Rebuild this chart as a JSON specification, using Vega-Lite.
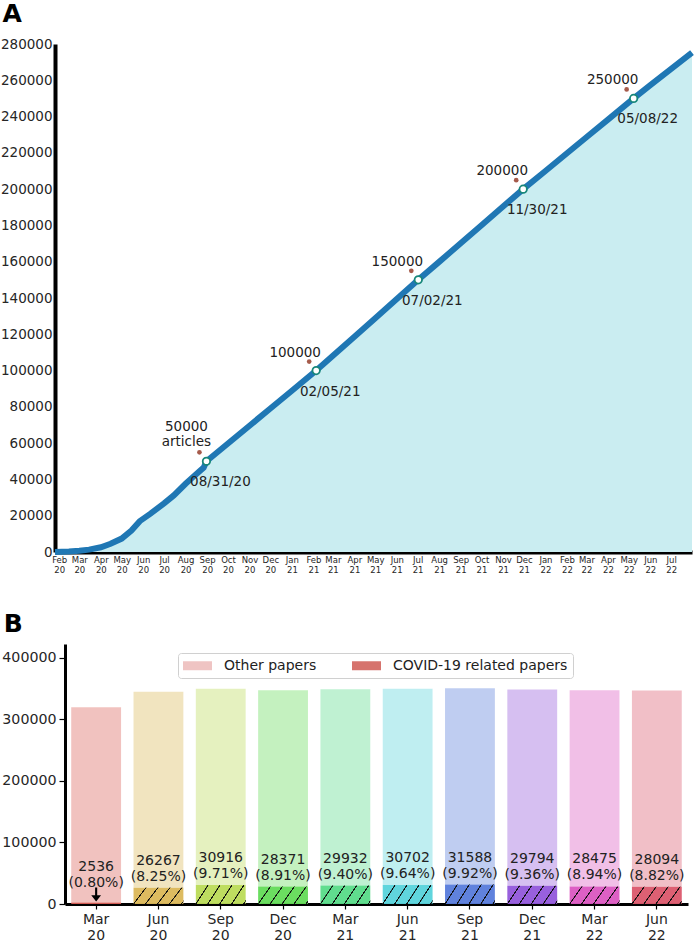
{
  "$schema": "https://vega.github.io/schema/vega-lite/v6.json",
  "padding": {"left": 0, "top": 2, "right": 0, "bottom": 0},
  "spacing": 38,
  "resolve": {"legend": {"color": "independent"}, "scale": {"color": "independent"}},
  "config": {
    "font": "DejaVu Sans",
    "view": {"stroke": null},
    "axis": {"grid": false, "domainColor": "#000", "tickColor": "#000", "labelColor": "#262626", "labelFont": "DejaVu Sans", "labelFlush": false},
    "title": {"font": "DejaVu Sans", "fontWeight": "bold", "fontSize": 25, "anchor": "start", "frame": "bounds", "color": "#000"},
    "legend": {"labelFont": "DejaVu Sans"}
  },
  "datasets": {
    "series": [
      {"date": "2020-01-26", "n": 0},
      {"date": "2020-02-15", "n": 300},
      {"date": "2020-03-01", "n": 700},
      {"date": "2020-03-15", "n": 1300},
      {"date": "2020-04-01", "n": 2600},
      {"date": "2020-04-15", "n": 4500},
      {"date": "2020-05-01", "n": 7400},
      {"date": "2020-05-15", "n": 11800},
      {"date": "2020-05-27", "n": 17000},
      {"date": "2020-06-11", "n": 21000},
      {"date": "2020-07-01", "n": 26800},
      {"date": "2020-07-15", "n": 31200},
      {"date": "2020-08-01", "n": 37600},
      {"date": "2020-08-15", "n": 42500},
      {"date": "2020-08-27", "n": 46500},
      {"date": "2020-08-31", "n": 50000},
      {"date": "2020-10-01", "n": 59800},
      {"date": "2020-11-01", "n": 69600},
      {"date": "2020-12-01", "n": 79100},
      {"date": "2021-01-01", "n": 88900},
      {"date": "2021-02-05", "n": 100000},
      {"date": "2021-03-01", "n": 108200},
      {"date": "2021-04-01", "n": 118700},
      {"date": "2021-05-01", "n": 128900},
      {"date": "2021-06-01", "n": 139500},
      {"date": "2021-07-02", "n": 150000},
      {"date": "2021-08-01", "n": 159900},
      {"date": "2021-09-01", "n": 170200},
      {"date": "2021-10-01", "n": 180100},
      {"date": "2021-11-01", "n": 190400},
      {"date": "2021-11-30", "n": 200000},
      {"date": "2022-01-01", "n": 210000},
      {"date": "2022-02-01", "n": 219800},
      {"date": "2022-03-01", "n": 228600},
      {"date": "2022-04-01", "n": 238300},
      {"date": "2022-05-08", "n": 250000},
      {"date": "2022-06-01", "n": 257300},
      {"date": "2022-07-01", "n": 266300},
      {"date": "2022-07-31", "n": 275300}
    ],
    "milestones": [
      {"date": "2020-08-31", "n": 50000, "top": "50000\narticles", "bottom": "08/31/20"},
      {"date": "2021-02-05", "n": 100000, "top": "100000", "bottom": "02/05/21"},
      {"date": "2021-07-02", "n": 150000, "top": "150000", "bottom": "07/02/21"},
      {"date": "2021-11-30", "n": 200000, "top": "200000", "bottom": "11/30/21"},
      {"date": "2022-05-08", "n": 250000, "top": "250000", "bottom": "05/08/22"}
    ],
    "bars": [
      {"period": "Mar 20", "covid": 2536, "other": 317000, "label": "2536\n(0.80%)"},
      {"period": "Jun 20", "covid": 26267, "other": 318388, "label": "26267\n(8.25%)"},
      {"period": "Sep 20", "covid": 30916, "other": 318394, "label": "30916\n(9.71%)"},
      {"period": "Dec 20", "covid": 28371, "other": 318418, "label": "28371\n(8.91%)"},
      {"period": "Mar 21", "covid": 29932, "other": 318426, "label": "29932\n(9.40%)"},
      {"period": "Jun 21", "covid": 30702, "other": 318485, "label": "30702\n(9.64%)"},
      {"period": "Sep 21", "covid": 31588, "other": 318427, "label": "31588\n(9.92%)"},
      {"period": "Dec 21", "covid": 29794, "other": 318312, "label": "29794\n(9.36%)"},
      {"period": "Mar 22", "covid": 28475, "other": 318512, "label": "28475\n(8.94%)"},
      {"period": "Jun 22", "covid": 28094, "other": 318526, "label": "28094\n(8.82%)"}
    ]
  },
  "vconcat": [
    {
      "title": {"text": "A", "offset": 10, "dx": 2},
      "width": 637,
      "height": 508,
      "encoding": {
        "x": {
          "field": "date", "type": "temporal",
          "scale": {"type": "utc", "domain": [{"year": 2020, "month": 1, "date": 26, "utc": true}, {"year": 2022, "month": 7, "date": 31, "utc": true}]},
          "axis": {"title": null, "tickCount": {"interval": "month", "step": 1}, "labelExpr": "[utcFormat(datum.value,'%b'), utcFormat(datum.value,'%y')]", "labelFontSize": 8.5, "labelLineHeight": 10, "labelPadding": 3, "ticks": false, "domainWidth": 4, "labelOverlap": false, "labelBound": false}
        },
        "y": {
          "field": "n", "type": "quantitative",
          "scale": {"domain": [0, 280000], "nice": false},
          "axis": {"title": null, "values": [0, 20000, 40000, 60000, 80000, 100000, 120000, 140000, 160000, 180000, 200000, 220000, 240000, 260000, 280000], "format": "d", "labelFontSize": 13.5, "ticks": false, "labelPadding": 3, "domainWidth": 4}
        }
      },
      "layer": [
        {"data": {"name": "series"}, "mark": {"type": "area", "color": "#caedf1"}},
        {"data": {"name": "series"}, "mark": {"type": "line", "color": "#1f77b4", "strokeWidth": 6}},
        {"data": {"name": "milestones"}, "mark": {"type": "point", "shape": "circle", "filled": true, "size": 22, "color": "#a65b4b", "opacity": 1, "xOffset": -7, "yOffset": -9}},
        {"data": {"name": "milestones"}, "mark": {"type": "point", "shape": "circle", "filled": true, "fill": "white", "stroke": "#17877a", "strokeWidth": 1.8, "size": 55, "opacity": 1}},
        {"data": {"name": "milestones"}, "transform": [{"filter": "datum.n > 50000"}], "mark": {"type": "text", "fontSize": 13.5, "color": "#222", "align": "center", "baseline": "bottom", "dx": -21, "dy": -11}, "encoding": {"text": {"field": "top"}}},
        {"data": {"name": "milestones"}, "transform": [{"filter": "datum.n <= 50000"}], "mark": {"type": "text", "fontSize": 13.5, "color": "#222", "align": "center", "baseline": "bottom", "dx": -20, "dy": -27, "lineBreak": "\n", "lineHeight": 15}, "encoding": {"text": {"field": "top"}}},
        {"data": {"name": "milestones"}, "mark": {"type": "text", "fontSize": 13.5, "color": "#222", "align": "center", "baseline": "top", "dx": 14, "dy": 14}, "encoding": {"text": {"field": "bottom"}}}
      ]
    },
    {
      "title": {"text": "B", "offset": 7, "dx": 2},
      "width": 633,
      "height": 260,
      "data": {"name": "bars"},
      "encoding": {
        "x": {
          "field": "period", "type": "nominal", "sort": null,
          "scale": {"range": [10, 633], "paddingInner": 0.2, "paddingOuter": 0.1},
          "axis": {"title": null, "labelAngle": 0, "labelExpr": "split(datum.value, ' ')", "labelFontSize": 14, "labelLineHeight": 16, "tickSize": 5, "tickWidth": 1.2, "labelPadding": 3, "domainWidth": 3}
        }
      },
      "layer": [
        {
          "transform": [{"fold": ["covid", "other"], "as": ["kind", "count"]}],
          "mark": {"type": "bar"},
          "encoding": {
            "y": {"field": "count", "type": "quantitative", "stack": "zero", "scale": {"domain": [0, 422000], "nice": false},
                  "axis": {"title": null, "offset": -10, "values": [0, 50000, 100000, 150000, 200000, 250000, 300000, 350000, 400000], "format": "d", "labelFontSize": 14.2, "tickSize": 6, "tickWidth": 1.2, "labelPadding": 3, "domainWidth": 3}},
            "fill": {"field": "period", "type": "nominal", "sort": null, "legend": null,
                     "scale": {"domain": ["Mar 20", "Jun 20", "Sep 20", "Dec 20", "Mar 21", "Jun 21", "Sep 21", "Dec 21", "Mar 22", "Jun 22"],
                               "range": ["#db5f57", "#dbb757", "#bbdb57", "#63db57", "#57db88", "#57d3db", "#577bdb", "#9257db", "#db57c1", "#db576c"]}},
            "opacity": {"field": "kind", "type": "ordinal", "legend": null, "scale": {"domain": ["covid", "other"], "range": [0.95, 0.38]}},
            "order": {"field": "kind"}
          }
        },
        {
          "transform": [{"filter": "datum.covid > 10000"}],
          "mark": {"type": "bar", "opacity": 1, "fill": {"gradient": "linear", "x1": 0, "y1": 0, "x2": 1.2, "y2": 0.296, "stops": [
            {"offset": 0, "color": "rgba(0,0,0,0)"},
            {"offset": 0.182, "color": "rgba(0,0,0,0)"}, {"offset": 0.186, "color": "#111"}, {"offset": 0.202, "color": "#111"}, {"offset": 0.206, "color": "rgba(0,0,0,0)"},
            {"offset": 0.370, "color": "rgba(0,0,0,0)"}, {"offset": 0.374, "color": "#111"}, {"offset": 0.390, "color": "#111"}, {"offset": 0.394, "color": "rgba(0,0,0,0)"},
            {"offset": 0.559, "color": "rgba(0,0,0,0)"}, {"offset": 0.563, "color": "#111"}, {"offset": 0.579, "color": "#111"}, {"offset": 0.583, "color": "rgba(0,0,0,0)"},
            {"offset": 0.747, "color": "rgba(0,0,0,0)"}, {"offset": 0.751, "color": "#111"}, {"offset": 0.767, "color": "#111"}, {"offset": 0.771, "color": "rgba(0,0,0,0)"},
            {"offset": 0.936, "color": "rgba(0,0,0,0)"}, {"offset": 0.940, "color": "#111"}, {"offset": 0.956, "color": "#111"}, {"offset": 0.960, "color": "rgba(0,0,0,0)"},
            {"offset": 1, "color": "rgba(0,0,0,0)"}
          ]}},
          "encoding": {"y": {"field": "covid", "type": "quantitative"}}
        },
        {
          "transform": [{"filter": "datum.covid > 10000"}],
          "mark": {"type": "text", "fontSize": 14, "color": "#222", "align": "center", "baseline": "bottom", "dy": -20, "lineBreak": "\n", "lineHeight": 16},
          "encoding": {"y": {"field": "covid", "type": "quantitative"}, "text": {"field": "label"}}
        },
        {
          "transform": [{"filter": "datum.covid <= 10000"}],
          "mark": {"type": "text", "fontSize": 14, "color": "#222", "align": "center", "baseline": "bottom", "dy": -28, "lineBreak": "\n", "lineHeight": 16},
          "encoding": {"y": {"field": "covid", "type": "quantitative"}, "text": {"field": "label"}}
        },
        {
          "transform": [{"filter": "datum.covid <= 10000"}],
          "mark": {"type": "point", "shape": "M-0.15,-1H0.15V0.1H0.7L0,1L-0.7,0.1H-0.15Z", "filled": true, "color": "#000", "opacity": 1, "size": 196, "yOffset": -8},
          "encoding": {"y": {"field": "covid", "type": "quantitative"}}
        },
        {
          "transform": [{"filter": "false"}],
          "mark": {"type": "square", "opacity": 1},
          "encoding": {
            "y": {"field": "covid", "type": "quantitative"},
            "color": {"field": "legendKind", "type": "nominal",
                      "scale": {"domain": ["Other papers", "COVID-19 related papers"], "range": ["#efc4c3", "#d6736d"]},
                      "legend": {"title": null, "orient": "none", "legendX": 123, "legendY": 9, "direction": "horizontal",
                                 "labelFontSize": 14, "labelColor": "#222", "labelLimit": 0, "padding": 5, "strokeColor": "#d0d0d0", "fillColor": "rgba(255,255,255,0.8)", "cornerRadius": 3,
                                 "labelOffset": 19, "symbolOffset": 7, "columnPadding": 35, "symbolType": "M-2,-0.62H2V0.62H-2Z", "symbolSize": 210, "symbolStrokeWidth": 0, "symbolOpacity": 1}}
          }
        }
      ]
    }
  ]
}
